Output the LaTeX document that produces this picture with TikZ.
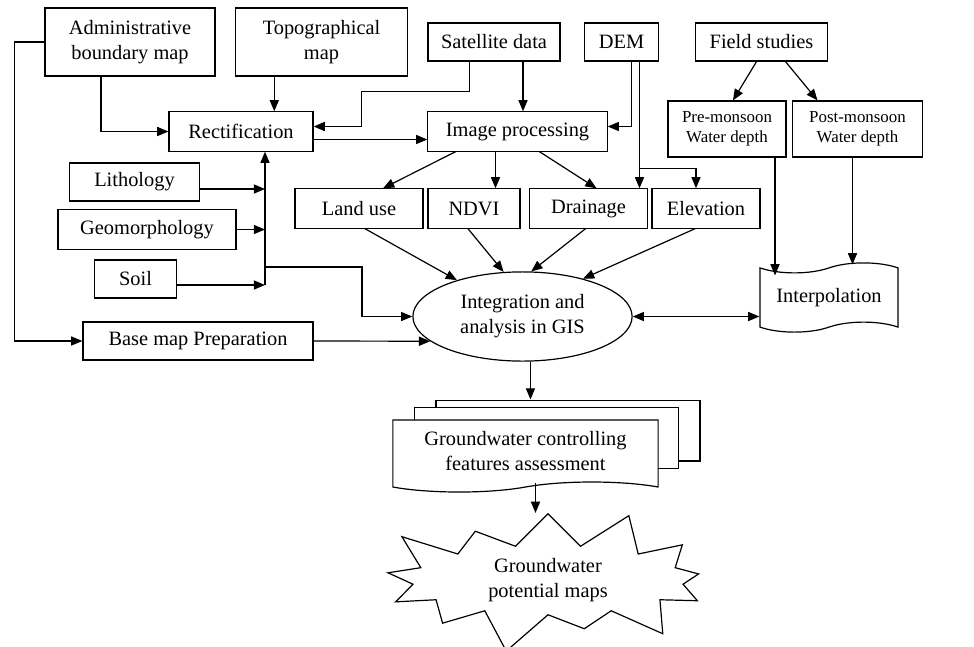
\documentclass[tikz,border=0pt]{standalone}
\usepackage{fontspec}
\setmainfont{Liberation Serif}
\usetikzlibrary{arrows.meta,positioning,calc,shapes.geometric,shapes.symbols}
\tikzset{
  flowbox/.style = {draw, line width=0.85pt, inner sep=2pt, align=center, font=\fontsize{14.5}{17.8}\selectfont},
  smallbox/.style = {flowbox, font=\fontsize{12}{14.2}\selectfont},
  flowline/.style = {line width=0.85pt},
  flowarrow/.style = {flowline, -{Triangle[length=8pt,width=6.5pt]}},
  bothways/.style = {flowline, {Triangle[length=8pt,width=6.5pt]}-{Triangle[length=8pt,width=6.5pt]}},
  sheet/.style = {flowbox, fill=white, minimum width=6.6cm, minimum height=1.52cm},
}
\begin{document}
\begin{tikzpicture}[x=0.025cm, y=-0.025cm]
  \useasboundingbox (0,0) rectangle (974,646);

  % Source data
  \node[flowbox, minimum width=4.25cm, minimum height=1.7cm] (adm) at (130,42) {Administrative\\boundary map};
  \node[flowbox, minimum width=4.28cm, minimum height=1.7cm] (topo) at (321.5,42) {Topographical\\map};
  \node[flowbox, minimum width=3.3cm, minimum height=0.95cm] (sat) at (494,42) {Satellite data};
  \node[flowbox, minimum width=1.83cm, minimum height=0.95cm] (dem) at (621.5,42) {DEM};
  \node[flowbox, minimum width=3.28cm, minimum height=0.95cm] (field) at (761.5,42) {Field studies};

  % Processing
  \node[flowbox, minimum width=3.6cm, minimum height=0.98cm] (rect) at (241,131.5) {Rectification};
  \node[flowbox, minimum width=4.48cm, minimum height=0.98cm] (improc) at (517.5,131.5) {Image processing};
  \node[smallbox, minimum width=2.95cm, minimum height=1.4cm] (pre) at (727,129) {Pre-monsoon\\Water depth};
  \node[smallbox, minimum width=3.23cm, minimum height=1.4cm] (post) at (857.5,129) {Post-monsoon\\Water depth};

  % Thematic layers
  \node[flowbox, minimum width=3.23cm, minimum height=0.95cm] (litho) at (134.5,182) {Lithology};
  \node[flowbox, minimum width=4.45cm, minimum height=0.98cm] (geo) at (147,229.5) {Geomorphology};
  \node[flowbox, minimum width=2.03cm, minimum height=0.95cm] (soil) at (135.5,279) {Soil};
  \node[flowbox, minimum width=3.2cm, minimum height=0.98cm] (landuse) at (359,208.5) {Land use};
  \node[flowbox, minimum width=2.3cm, minimum height=0.98cm] (ndvi) at (474,208.5) {NDVI};
  \node[flowbox, minimum width=2.93cm, minimum height=0.98cm] (drain) at (588.5,208.5) {Drainage};
  \node[flowbox, minimum width=2.7cm, minimum height=0.98cm] (elev) at (706,208.5) {Elevation};
  \node[flowbox, minimum width=5.75cm, minimum height=0.95cm] (base) at (198,341) {Base map Preparation};

  % GIS and outputs
  \node[flowbox, ellipse, minimum width=5.48cm, minimum height=2.23cm] (gis) at (522.5,316.5) {Integration and\\analysis in GIS};
  \node[flowbox, tape, tape bend height=0.25cm, minimum width=3.45cm, minimum height=1.73cm] (interp) at (829,297.5) {Interpolation};
  \node[sheet] (doca) at (568,430.5) {};
  \node[sheet] (docb) at (546.5,438) {};
  \node[flowbox, tape, tape bend top=none, tape bend height=0.25cm, fill=white, minimum width=6.63cm, minimum height=1.8cm] (doc) at (525.5,451) {Groundwater controlling\\features assessment};
  \node[flowbox, starburst, starburst points=13, starburst point height=1.1cm, minimum width=9cm, minimum height=2.95cm] (star) at (548,580) {Groundwater\\potential maps};

  % Connections to rectification
  \draw[flowarrow] (adm.west) -- ++(-30,0) |- (base.west);
  \draw[flowarrow] (adm.south) ++(-29,0) |- (rect.west);
  \draw[flowarrow] (topo.south west) ++(39,0) coordinate (t1) -- (t1 |- rect.north);
  \draw[flowarrow] (sat.south west) ++(42,0) -- ++(0,30) -- ++(-108,0) |- ($(rect.east)+(0,-5)$);
  \draw[flowarrow] ($(rect.east)+(0,8)$) -- ($(improc.west)+(0,8)$);

  % Connections to image processing
  \draw[flowarrow] (sat.south) ++(29,0) coordinate (s1) -- (s1 |- improc.north);
  \draw[flowarrow] (dem.south) ++(10,0) |- ($(improc.east)+(0,-5)$);
  \draw[flowarrow] (dem.south) ++(18,0) coordinate (d1) -- (d1 |- drain.north);
  \draw[flowarrow] (d1) ++(0,107) -| ($(elev.north)+(-10,0)$);
  \draw[flowarrow] ($(improc.south)+(-62,0)$) -- ($(landuse.north)+(24,0)$);
  \draw[flowarrow] (improc.south) ++(-22,0) coordinate (i1) -- (i1 |- ndvi.north);
  \draw[flowarrow] ($(improc.south)+(22,0)$) -- ($(drain.north)+(8,0)$);

  % Field studies
  \draw[flowarrow] ($(field.south)+(-5,0)$) -- ($(pre.north)+(6,0)$);
  \draw[flowarrow] ($(field.south)+(24,0)$) -- ($(post.north)+(-40,0)$);
  \draw[flowarrow] (pre.south) ++(48,0) coordinate (p1) -- ($(p1 |- interp.north)+(0,8)$);
  \draw[flowarrow] (post.south) ++(-5,0) coordinate (p2) -- ($(p2 |- interp.north)+(0,-3)$);

  % Layers to rectification and GIS
  \path (rect.south) ++(24,0) coordinate (r1);
  \draw[flowarrow] ($(litho.east)+(0,7)$) coordinate (l1) -- (l1 -| r1);
  \draw[flowarrow] (geo.east) -- (geo.east -| r1);
  \draw[flowarrow] ($(soil.east)+(0,6)$) coordinate (o1) -- (o1 -| r1);
  \draw[flowarrow] (o1 -| r1) -- (r1);
  \draw[flowarrow] ($(o1 -| r1)+(0,-18)$) -- ++(97,0) |- (gis.west);
  \draw[flowarrow] (base.east) -- (gis.195);
  \draw[flowarrow] ($(landuse.south)+(6,0)$) -- (gis.151);
  \draw[flowarrow] ($(ndvi.south)+(-6,0)$) -- (gis.113);
  \draw[flowarrow] ($(drain.south)+(-3,0)$) -- (gis.79);
  \draw[flowarrow] ($(elev.south)+(-11,0)$) -- (gis.32);
  \draw[bothways] (gis.east) -- (gis.east -| interp.west);

  % Outputs
  \draw[flowarrow] (gis.280) -- (gis.280 |- doca.north);
  \draw[flowarrow] (doc.south) ++(10,0) coordinate (c1) -- (c1 |- star.north);
\end{tikzpicture}
\end{document}
